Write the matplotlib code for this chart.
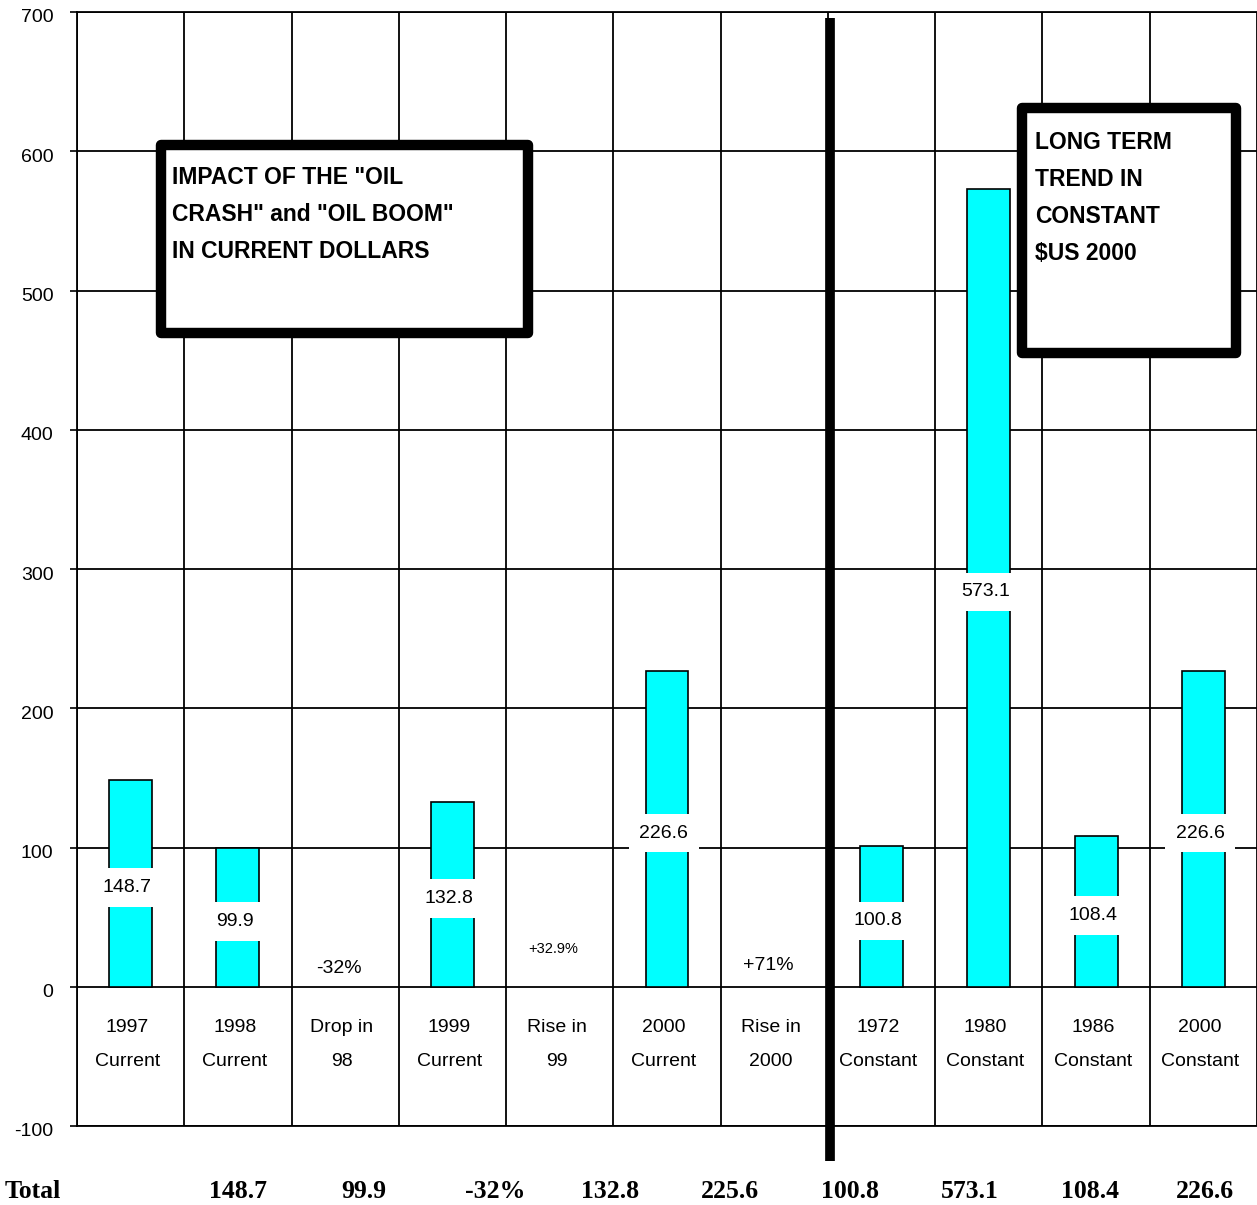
import matplotlib.pyplot as plt
from matplotlib.patches import Rectangle
from matplotlib.transforms import ScaledTranslation

plt.rcParams['font.family'] = ['Liberation Sans', 'DejaVu Sans']
plt.rcParams['axes.unicode_minus'] = False

# --- data ---
cat_top = ["1997", "1998", "Drop in", "1999", "Rise in", "2000", "Rise in",
           "1972", "1980", "1986", "2000"]
cat_bottom = ["Current", "Current", "98", "Current", "99", "Current", "2000",
              "Constant", "Constant", "Constant", "Constant"]
values = [148.7, 99.9, None, 132.8, None, 226.6, None, 100.8, 573.1, 108.4, 226.6]
value_labels = ["148.7", "99.9", None, "132.8", None, "226.6", None,
                "100.8", "573.1", "108.4", "226.6"]
change_idx = [2, 4, 6]
change_labels = ["-32%", "+32.9%", "+71%"]
change_y = [13, 27, 15]
change_size = [14, 10.5, 14]
n_current = 7  # first 7 columns are current dollars

total_labels = ["148.7", "99.9", "-32%", "132.8", "225.6", "100.8", "573.1", "108.4", "226.6"]
total_x_px = [238, 364, 495, 610, 730, 850, 970, 1090, 1205]

box1_lines = ['IMPACT OF THE "OIL', 'CRASH" and "OIL BOOM"', 'IN CURRENT DOLLARS']
box2_lines = ['LONG TERM', 'TREND IN', 'CONSTANT', '$US 2000']

W, H = 1257, 1205
fig = plt.figure(figsize=(W / 100, H / 100), dpi=100)
ax = fig.add_axes([77 / W, 1 - 1126 / H, 1 - 77 / W, (1126 - 12) / H])

n = len(cat_top)
x = list(range(n))
ax.set_xlim(-0.5, n - 0.5)
ax.set_ylim(-100, 700)

# grid: category boundaries and every 100
ax.set_xticks([i - 0.5 for i in range(n + 1)])
ax.set_xticklabels([])
ax.set_yticks(range(-100, 701, 100))
ax.grid(True, color='black', linewidth=1.3, zorder=0)
ax.set_axisbelow(True)
ax.tick_params(axis='x', length=0)
ax.tick_params(axis='y', length=5, width=1.2, pad=12, labelsize=14)
for lab in ax.get_yticklabels():
    lab.set_transform(lab.get_transform() + ScaledTranslation(0, -0.04, fig.dpi_scale_trans))
for s in ax.spines.values():
    s.set_linewidth(1.3)
ax.spines['right'].set_visible(False)

# bars
bx = [i for i, v in zip(x, values) if v is not None]
bv = [v for v in values if v is not None]
ax.bar(bx, bv, width=0.4, color='#00ffff', edgecolor='black', linewidth=1.2, zorder=2)

for i, (v, lab) in enumerate(zip(values, value_labels)):
    if v is None:
        continue
    ax.text(i - 0.03, v / 2 - 3, lab, ha='center', va='center', fontsize=14, zorder=4,
            bbox=dict(boxstyle='square,pad=0.55', facecolor='white', edgecolor='none'))

for i, lab, yy, fs in zip(change_idx, change_labels, change_y, change_size):
    ax.text(i - 0.06, yy, lab, ha='center', va='center', fontsize=fs, zorder=4)

# category labels inside the 0..-100 band
for i in x:
    ax.text(i - 0.03, -29.5, cat_top[i], ha='center', va='center', fontsize=14, zorder=4)
    ax.text(i - 0.03, -53.5, cat_bottom[i], ha='center', va='center', fontsize=14, zorder=4)

# separator between current and constant dollar groups
ax.plot([n_current - 0.48, n_current - 0.48], [-125, 696], color='black',
        linewidth=7, solid_capstyle='butt', clip_on=False, zorder=5)

# annotation boxes
ax.add_patch(Rectangle((0.28, 469.5), 3.42, 135, facecolor='white', edgecolor='black',
                       linewidth=7.5, joinstyle='round', zorder=3))
for k, line in enumerate(box1_lines):
    ax.text(0.39, 581 - k * 26.5, line, ha='left', va='center', fontsize=16.5,
            fontweight='bold', zorder=4)

ax.add_patch(Rectangle((8.31, 455), 1.99, 176, facecolor='white', edgecolor='black',
                       linewidth=7.5, joinstyle='round', zorder=3))
for k, line in enumerate(box2_lines):
    ax.text(8.43, 606 - k * 26.5, line, ha='left', va='center', fontsize=16.5,
            fontweight='bold', zorder=4)

# totals row
fig.text(5 / W, 1 - 1191 / H, "Total", ha='left', va='center', fontsize=18.5,
         fontweight='bold', family='Liberation Serif')
for lab, px in zip(total_labels, total_x_px):
    fig.text(px / W, 1 - 1191 / H, lab, ha='center', va='center', fontsize=18.5,
             fontweight='bold', family='Liberation Serif')

fig.savefig('out.png', dpi=100)
